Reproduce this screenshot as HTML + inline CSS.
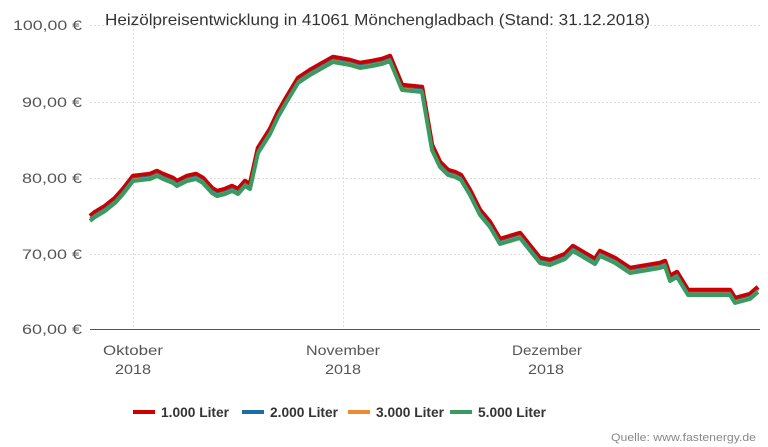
<!DOCTYPE html>
<html><head><meta charset="utf-8"><style>
body{margin:0;background:#fff;}
svg{display:block;font-family:"Liberation Sans",sans-serif;}
</style></head><body>
<svg width="768" height="447" viewBox="0 0 768 447">
<defs>
<polyline id="p" fill="none" stroke-linejoin="round" points="90,216 95,212 105,206 115,198 123,189 133,176 150,174 157,171 163,174 173,178 177,181 187,176 196,174 203,178 212,188 217,191 225,189 232,186 238,189 245,181 250,184 258,148 270,129 278,112 286,98 292,88 298,78 310,70 333,57 350,60 360,63 372,61 382,59 390,56 402,85 422,87 432,145 440,162 448,170 455,172 461,175 470,190 480,210 490,222 500,239 520,233 540,258 550,260 565,254 573,246 595,259 600,251 615,258 630,268 660,263 665,261 670,276 677,272 688,290 730,290 735,298 750,294 758,287"/>
</defs>
<text x="105" y="25" font-size="16" fill="#333" textLength="545" lengthAdjust="spacingAndGlyphs">Heizölpreisentwicklung in 41061 Mönchengladbach (Stand: 31.12.2018)</text>
<g stroke="#ddd" stroke-dasharray="2,2" stroke-width="1">
<line x1="90" x2="760" y1="25.5" y2="25.5"/><line x1="90" x2="760" y1="102.5" y2="102.5"/>
<line x1="90" x2="760" y1="178.5" y2="178.5"/><line x1="90" x2="760" y1="254.5" y2="254.5"/>
<line x1="133.5" x2="133.5" y1="25" y2="329"/><line x1="343.5" x2="343.5" y1="25" y2="329"/><line x1="546.5" x2="546.5" y1="25" y2="329"/>
</g>
<line x1="90" x2="760" y1="329.5" y2="329.5" stroke="#555" stroke-width="1"/>
<g font-size="14" fill="#555">
<text x="13" y="30" textLength="69" lengthAdjust="spacingAndGlyphs">100,00 €</text>
<text x="22" y="107" textLength="60" lengthAdjust="spacingAndGlyphs">90,00 €</text>
<text x="22" y="183" textLength="60" lengthAdjust="spacingAndGlyphs">80,00 €</text>
<text x="22" y="259" textLength="60" lengthAdjust="spacingAndGlyphs">70,00 €</text>
<text x="22" y="334" textLength="60" lengthAdjust="spacingAndGlyphs">60,00 €</text>
</g>
<g font-size="14" fill="#555">
<text x="103" y="355" textLength="60" lengthAdjust="spacingAndGlyphs">Oktober</text><text x="115" y="374" textLength="36" lengthAdjust="spacingAndGlyphs">2018</text>
<text x="306" y="355" textLength="74" lengthAdjust="spacingAndGlyphs">November</text><text x="325" y="374" textLength="36" lengthAdjust="spacingAndGlyphs">2018</text>
<text x="512" y="355" textLength="70" lengthAdjust="spacingAndGlyphs">Dezember</text><text x="528" y="374" textLength="36" lengthAdjust="spacingAndGlyphs">2018</text>
</g>
<use href="#p" stroke="#cc0000" stroke-width="4.5"/>
<use href="#p" stroke="#1a6ea8" stroke-width="2" transform="translate(0,2.5)"/>
<use href="#p" stroke="#f08a30" stroke-width="2" transform="translate(0,3.5)"/>
<use href="#p" stroke="#3a9a60" stroke-width="4" transform="translate(0,5)"/>
<g font-size="14" font-weight="bold" fill="#333">
<line x1="133" x2="155" y1="412" y2="412" stroke="#cc0000" stroke-width="4"/><text x="161" y="417" textLength="68" lengthAdjust="spacingAndGlyphs">1.000 Liter</text>
<line x1="242" x2="264" y1="412" y2="412" stroke="#1a6ea8" stroke-width="4"/><text x="270" y="417" textLength="68" lengthAdjust="spacingAndGlyphs">2.000 Liter</text>
<line x1="348" x2="370" y1="412" y2="412" stroke="#f08a30" stroke-width="4"/><text x="376" y="417" textLength="68" lengthAdjust="spacingAndGlyphs">3.000 Liter</text>
<line x1="450" x2="472" y1="412" y2="412" stroke="#3a9a60" stroke-width="4"/><text x="478" y="417" textLength="68" lengthAdjust="spacingAndGlyphs">5.000 Liter</text>
</g>
<text x="611" y="441" font-size="11" fill="#888" textLength="145" lengthAdjust="spacingAndGlyphs">Quelle: www.fastenergy.de</text>
</svg>
</body></html>
